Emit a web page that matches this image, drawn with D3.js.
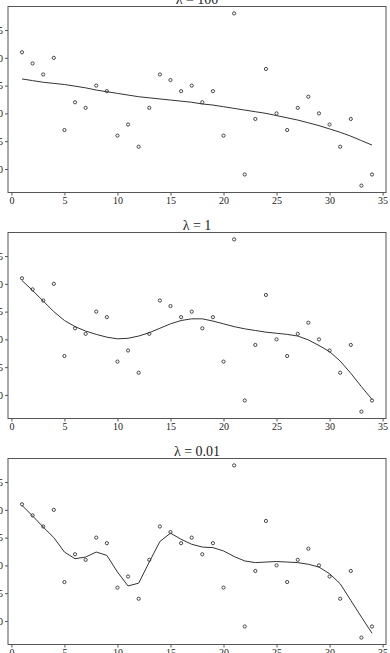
<!DOCTYPE html>
<html>
<head>
<meta charset="utf-8">
<script src="https://cdn.jsdelivr.net/npm/d3@7"></script>
<style>
  html, body { margin: 0; padding: 0; background: #fff; }
  svg { display: block; }
  text { font-family: "Liberation Serif", "DejaVu Serif", serif; fill: #222; }
</style>
</head>
<body>
<script>
// observations (same in every panel)
var xs = [1,2,3,4,5,6,7,8,9,10,11,12,13,14,15,16,17,18,19,20,21,22,23,24,25,26,27,28,29,30,31,32,33,34];
var obs = [31,29,27,30,17,22,21,25,24,16,18,14,21,27,26,24,25,22,24,16,38,9,19,28,20,17,21,23,20,18,14,19,7,9];

// smoothed fits
var fit100 = [26.2,25.9,25.6,25.4,25.2,24.9,24.6,24.2,23.9,23.6,23.3,23.0,22.8,22.6,22.4,22.2,22.0,21.7,21.5,21.2,
              20.9,20.6,20.3,20.0,19.6,19.2,18.8,18.3,17.8,17.2,16.6,15.9,15.1,14.3];
var fit1 = [30.6,28.8,26.9,25.0,23.4,22.3,21.5,20.9,20.4,20.1,20.2,20.6,21.2,22.0,22.8,23.4,23.7,23.7,23.3,22.8,
            22.3,21.9,21.6,21.3,21.1,20.9,20.6,19.9,18.9,17.8,16.1,13.9,11.5,9.2];
var fit001 = [30.8,28.9,26.9,25.0,22.4,21.2,21.5,22.4,21.8,18.8,16.3,16.8,20.6,24.3,25.8,24.7,23.8,23.3,23.2,22.6,
              21.6,20.8,20.5,20.6,20.7,20.6,20.5,20.2,19.7,18.5,16.7,13.7,10.7,7.8];

var titles = ["\u03bb = 100", "\u03bb = 1", "\u03bb = 0.01"];
var fits = [fit100, fit1, fit001];
var xTicks = [0,5,10,15,20,25,30,35];
var yTicks = [10,15,20,25,30,35];

var width = 390, height = 653;
var left = 8, right = 386, panelH = 186, firstTop = 6.5, step = 226;

var svg = d3.select("body").append("svg")
    .attr("width", width)
    .attr("height", height);

var x = d3.scaleLinear().domain([-0.32, 35.32]).range([left, right]);

fits.forEach(function(fit, i) {
  var top = firstTop + i * step;
  var y = d3.scaleLinear().domain([5.76, 39.24]).range([top + panelH, top]);
  var g = svg.append("g");

  g.append("text")
      .attr("x", (left + right) / 2)
      .attr("y", top - 3)
      .attr("text-anchor", "middle")
      .style("font-size", "14px")
      .text(titles[i]);

  g.append("rect")
      .attr("x", left).attr("y", top)
      .attr("width", right - left).attr("height", panelH)
      .attr("fill", "none").attr("stroke", "#555").attr("stroke-width", 1);

  var xAxis = g.append("g")
      .attr("transform", "translate(0," + (top + panelH) + ")")
      .call(d3.axisBottom(x).tickValues(xTicks).tickSize(3).tickPadding(1).tickSizeOuter(0));
  var yAxis = g.append("g")
      .attr("transform", "translate(" + left + ",0)")
      .call(d3.axisLeft(y).tickValues(yTicks).tickSize(3).tickPadding(2).tickSizeOuter(0));
  [xAxis, yAxis].forEach(function(a) {
    a.select(".domain").remove();
    a.selectAll("line").attr("stroke", "#555");
    a.selectAll("text").style("font-size", "10px").style("font-family", "Liberation Serif, serif").attr("fill", "#222");
  });

  g.append("path")
      .datum(xs)
      .attr("fill", "none")
      .attr("stroke", "#333")
      .attr("stroke-width", 1)
      .attr("d", d3.line()
          .x(function(d) { return x(d); })
          .y(function(d, j) { return y(fit[j]); }));

  g.selectAll("circle")
      .data(xs)
    .enter().append("circle")
      .attr("cx", function(d) { return x(d); })
      .attr("cy", function(d, j) { return y(obs[j]); })
      .attr("r", 1.6)
      .attr("fill", "none")
      .attr("stroke", "#333")
      .attr("stroke-width", 0.9);
});
</script>
</body>
</html>
